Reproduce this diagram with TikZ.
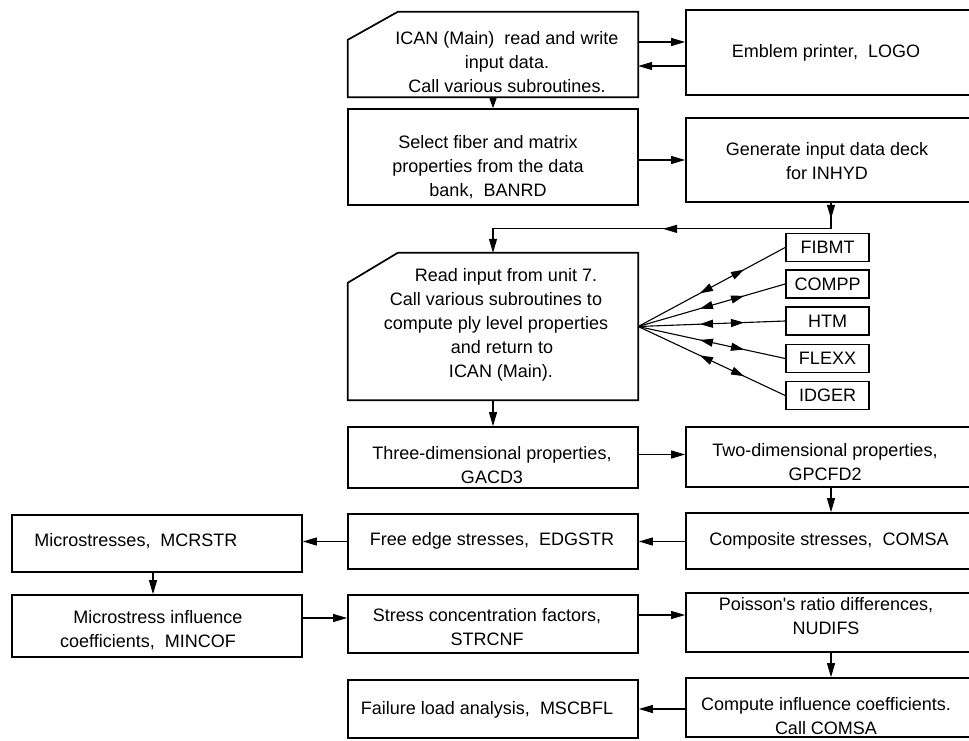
\documentclass[tikz,border=0pt]{standalone}
\usepackage{fontspec}
\setmainfont{Liberation Sans}
\usetikzlibrary{arrows.meta,decorations.markings}

\tikzset{
  box/.style={draw, line width=1.7pt, minimum width=290pt, inner sep=0pt},
  card/.style={minimum width=290pt, inner sep=0pt},
  edge/.style={line width=1.7pt},
  subbox/.style={draw, line width=1.7pt, minimum width=83pt, minimum height=28pt, inner sep=0pt},
  txt/.style={align=center, inner sep=0pt},
  conn/.style={line width=1.1pt, -{Triangle[length=14pt,width=8pt]}},
  shortconn/.style={line width=1.1pt, -{Triangle[length=10pt,width=7pt]}},
  route/.style={postaction=decorate, decoration={markings,
      mark=at position 16pt with {\arrow{Triangle[length=14pt,width=8pt]}},
      mark=at position 0.5 with {\arrow{Triangle[length=14pt,width=8pt]}}}},
  fan/.style={line width=1.1pt, postaction=decorate, decoration={markings,
      mark=at position 0.42 with {\arrowreversed{Triangle[length=13pt,width=8pt]}},
      mark=at position 0.72 with {\arrow{Triangle[length=13pt,width=8pt]}}}}
}

\begin{document}
\begin{tikzpicture}[x=1pt, y=-1pt, font=\fontsize{18}{24}\selectfont]
  \useasboundingbox (0,0) rectangle (969,741);
  \clip (0,0) rectangle (969,741);

  \node[card, minimum height=85pt] (ican) at (493,54.5) {};
  \draw[edge] ([yshift=-28pt]ican.north west) -- ([xshift=50pt]ican.north west) -- (ican.north east) -- (ican.south east) -- (ican.south west) -- cycle;
  \node[txt] (ican-t) at (507,62) {ICAN (Main) \ read and write\\input data.\\Call various subroutines.};

  \node[box, minimum height=85pt] (logo) at (831,52.5) {};
  \node[txt] (logo-t) at (826,53) {Emblem printer, \ LOGO};

  \node[box, minimum height=96pt] (banrd) at (493,157) {};
  \node[txt] (banrd-t) at (488,167) {Select fiber and matrix\\properties from the data\\bank, \ BANRD};

  \node[box, minimum height=84pt] (inhyd) at (831,160) {};
  \node[txt] (inhyd-t) at (827,161) {Generate input data deck\\for INHYD};

  \node[card, minimum height=147pt] (read) at (493,326.5) {};
  \draw[edge] ([yshift=-30pt]read.north west) -- ([xshift=50pt]read.north west) -- (read.north east) -- (read.south east) -- (read.south west) -- cycle;
  \node[txt] (read-t) at (496,325) {\hspace*{20pt}Read input from unit 7.\\Call various subroutines to\\compute ply level properties\\\hspace*{12pt}and return to\\\hspace*{10pt}ICAN (Main).};

  \node[subbox] (fibmt) at (827.5,247.5) {FIBMT};
  \node[subbox] (compp) at (827.5,284) {COMPP};
  \node[subbox] (htm) at (827.5,321) {HTM};
  \node[subbox] (flexx) at (827.5,358.5) {FLEXX};
  \node[subbox] (idger) at (827.5,395.5) {IDGER};

  \node[box, minimum height=61pt] (gacd) at (493,457.5) {};
  \node[txt] (gacd-t) at (492,465) {Three-dimensional properties,\\GACD3};

  \node[box, minimum height=60pt] (gpcfd) at (831,457) {};
  \node[txt] (gpcfd-t) at (825,462) {Two-dimensional properties,\\GPCFD2};

  \node[box, minimum height=56pt] (comsa) at (831,541) {};
  \node[txt] (comsa-t) at (829,541) {Composite stresses, \ COMSA};

  \node[box, minimum height=55pt] (edgstr) at (493,541.5) {};
  \node[txt] (edgstr-t) at (492,541) {Free edge stresses, \ EDGSTR};

  \node[box, minimum height=57pt] (mcrstr) at (157,543.5) {};
  \node[txt] (mcrstr-t) at (136,541) {Microstresses, \ MCRSTR};

  \node[box, minimum height=62pt] (mincof) at (157,626) {};
  \node[txt] (mincof-t) at (148,630) {\hspace*{20pt}Microstress influence\\coefficients, \ MINCOF};

  \node[box, minimum height=58pt] (strcnf) at (493,624) {};
  \node[txt] (strcnf-t) at (487,627) {Stress concentration factors,\\STRCNF};

  \node[box, minimum height=59pt] (nudifs) at (831,622.5) {};
  \node[txt] (nudifs-t) at (826,616) {Poisson\textquotesingle s ratio differences,\\NUDIFS};

  \node[box, minimum height=59pt] (callc) at (831,707.5) {};
  \node[txt] (callc-t) at (826,716) {Compute influence coefficients.\\Call COMSA};

  \node[box, minimum height=58pt] (mscbfl) at (493,709) {};
  \node[txt] (mscbfl-t) at (487,710) {Failure load analysis, \ MSCBFL};

  \draw[conn] ([yshift=12.5pt]ican.east) -- ([yshift=12.5pt]ican.east -| logo.west);
  \draw[conn] ([yshift=-11.5pt]ican.east -| logo.west) -- ([yshift=-11.5pt]ican.east);
  \draw[shortconn] (ican) -- (banrd);
  \draw[conn] (banrd.east |- inhyd.west) -- (inhyd.west);
  \draw[conn, route] (inhyd.south) -- ++(0,26) -| (read.north);
  \draw[fan] (read.east) -- (fibmt.west);
  \draw[fan] (read.east) -- (compp.west);
  \draw[fan] (read.east) -- (htm.west);
  \draw[fan] (read.east) -- (flexx.west);
  \draw[fan] (read.east) -- (idger.west);
  \draw[conn] (read) -- (gacd);
  \draw[conn] ([yshift=3pt]gacd.east) -- ([yshift=3pt]gacd.east -| gpcfd.west);
  \draw[conn] (gpcfd) -- (comsa);
  \draw[conn] (comsa.west |- edgstr.east) -- (edgstr.east);
  \draw[conn] (edgstr.west) -- (edgstr.west -| mcrstr.east);
  \draw[conn] ([xshift=-4pt]mcrstr.south) -- ([xshift=-4pt]mcrstr.south |- mincof.north);
  \draw[conn] ([yshift=8pt]mincof.east) -- ([yshift=8pt]mincof.east -| strcnf.west);
  \draw[conn] ([yshift=9pt]strcnf.east) -- ([yshift=9pt]strcnf.east -| nudifs.west);
  \draw[conn] (nudifs) -- (callc);
  \draw[conn] (callc.west |- mscbfl.east) -- (mscbfl.east);
\end{tikzpicture}
\end{document}
